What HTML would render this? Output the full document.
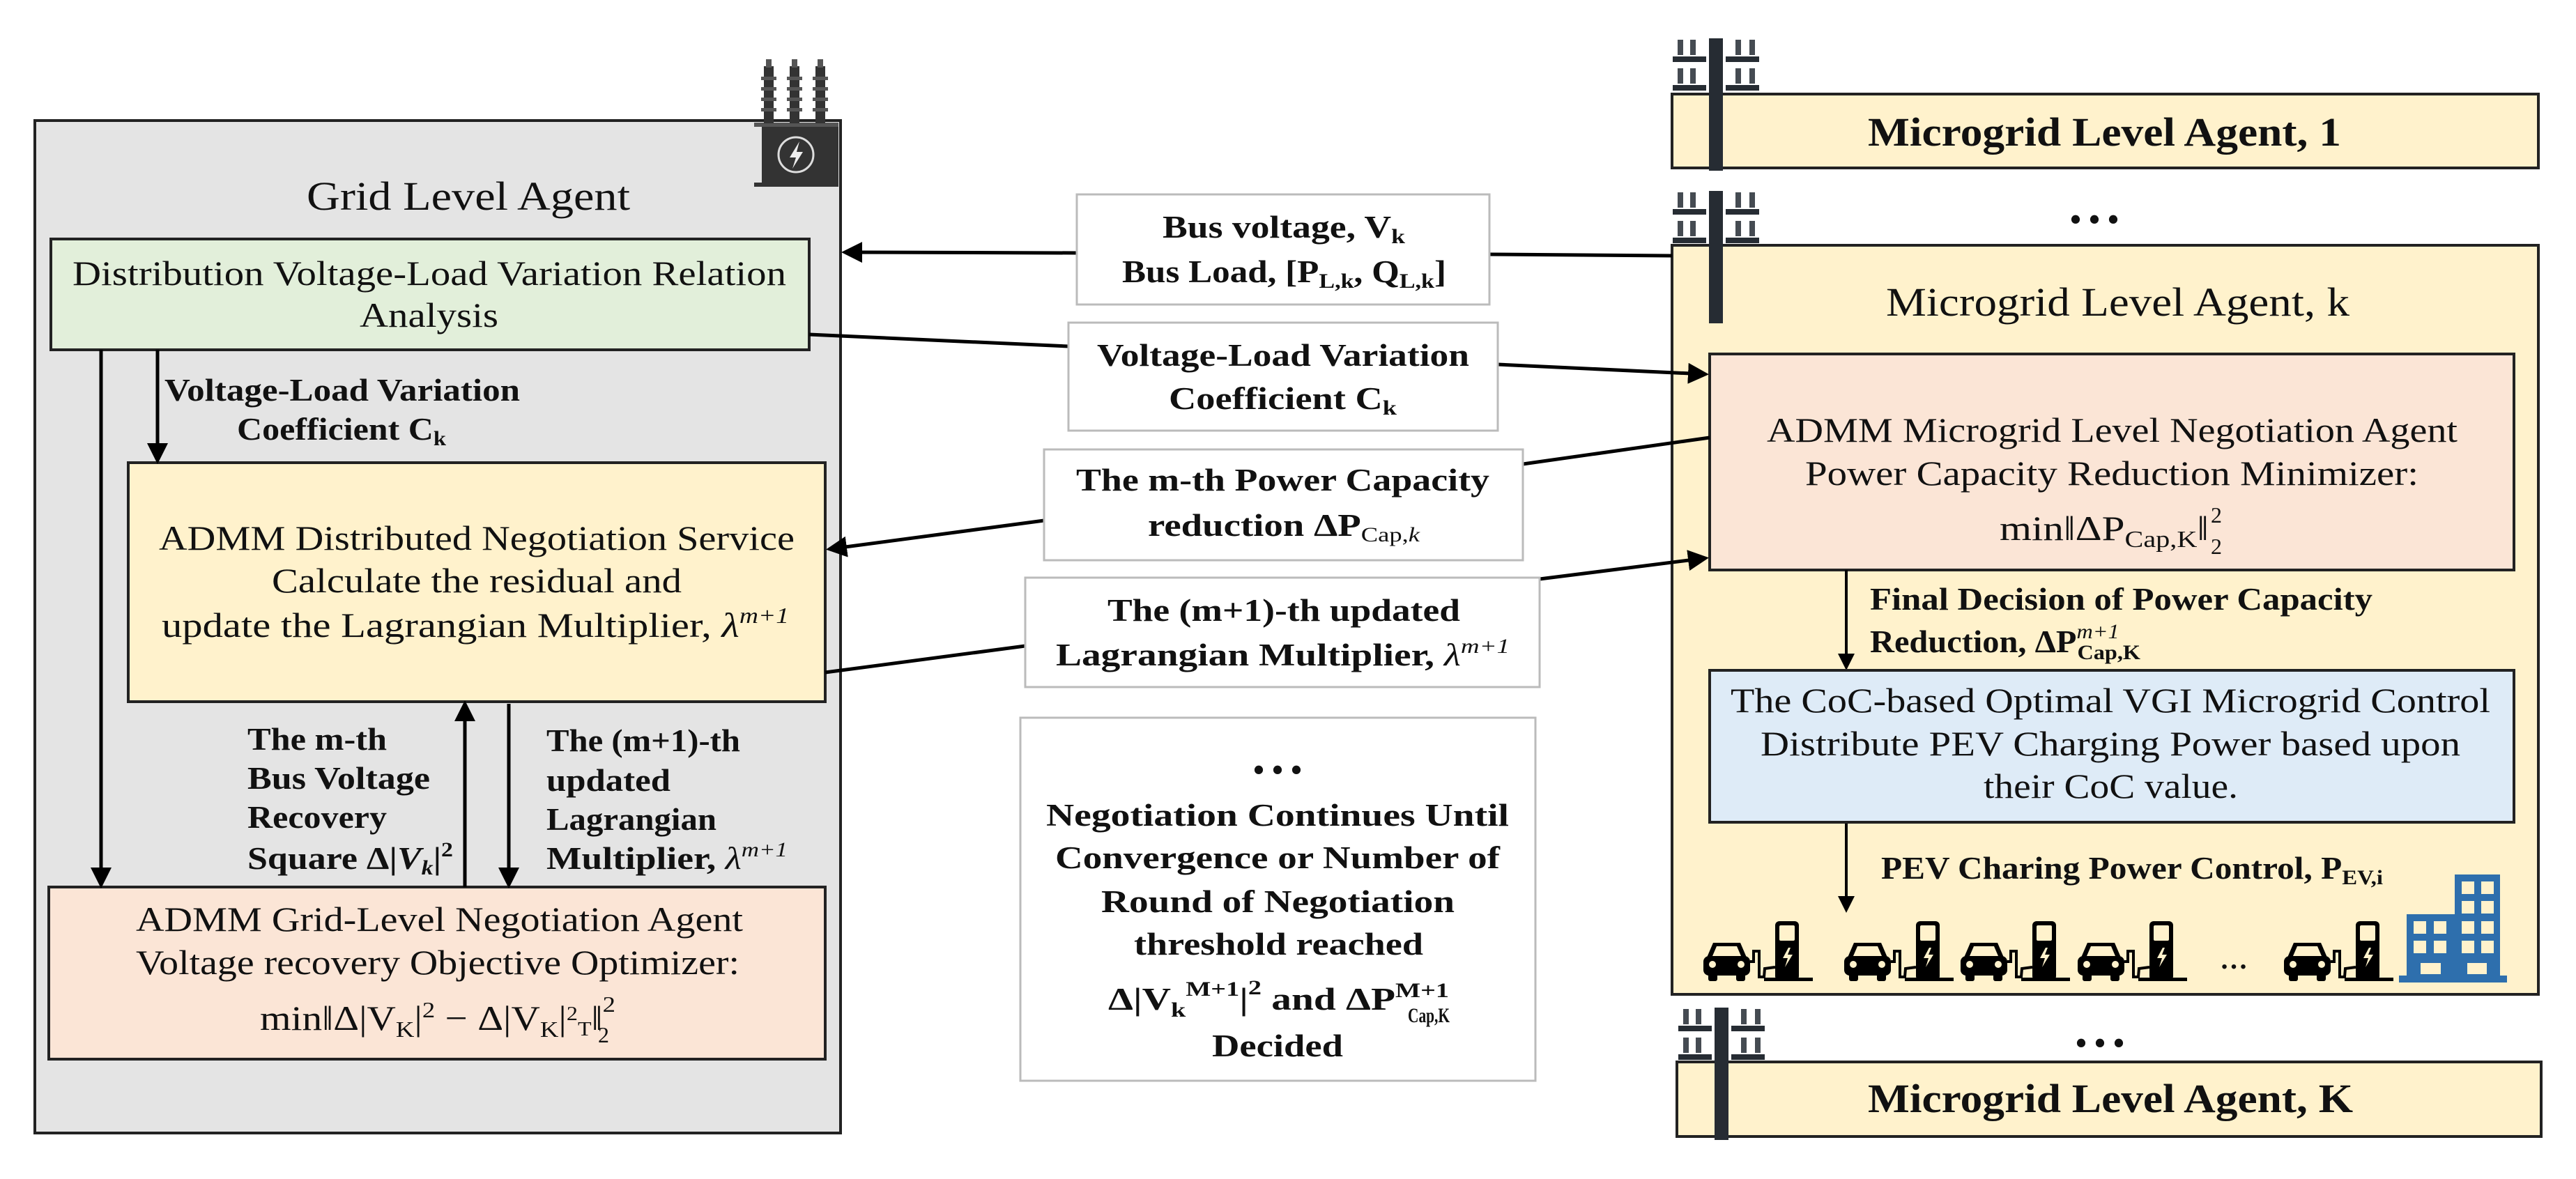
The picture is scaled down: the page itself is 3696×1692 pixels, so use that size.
<!DOCTYPE html>
<html><head><meta charset="utf-8"><style>
html,body{margin:0;padding:0;background:#fff}
svg{display:block}
text{font-family:"Liberation Serif",serif;fill:#111}
.b{font-weight:bold}
</style></head><body>
<svg width="3696" height="1692" viewBox="0 0 3696 1692" xmlns="http://www.w3.org/2000/svg">
<defs>
<marker id="ah" markerWidth="6" markerHeight="6" refX="5" refY="3" orient="auto" markerUnits="strokeWidth">
<path d="M0,0 L6,3 L0,6 Z" fill="#000"/></marker>
<g id="pole">
<rect x="52" y="0" width="20" height="190" fill="#262c33"/>
<rect x="0" y="26" width="48" height="8" fill="#262c33"/><rect x="76" y="26" width="48" height="8" fill="#262c33"/>
<rect x="0" y="67" width="48" height="8" fill="#262c33"/><rect x="76" y="67" width="48" height="8" fill="#262c33"/>
<g fill="#454b52">
<rect x="7" y="2" width="8" height="22"/><rect x="25" y="2" width="8" height="22"/><rect x="90" y="2" width="8" height="22"/><rect x="110" y="2" width="8" height="22"/>
<rect x="7" y="43" width="8" height="22"/><rect x="25" y="43" width="8" height="22"/><rect x="90" y="43" width="8" height="22"/><rect x="110" y="43" width="8" height="22"/>
</g></g>
<g id="car">
<path d="M14,33 L53,33 L62,54 L5,54 Z" fill="#000"/>
<path d="M19,38 L48,38 L54,52 L13,52 Z" fill="#fff2cc"/>
<rect x="0" y="52" width="67" height="28" rx="8" fill="#000"/>
<rect x="7" y="76" width="13" height="12" rx="3" fill="#000"/><rect x="47" y="76" width="13" height="12" rx="3" fill="#000"/>
<circle cx="13" cy="64" r="5" fill="#fff2cc"/><circle cx="54" cy="64" r="5" fill="#fff2cc"/>
<path d="M67,60 L72,60 L72,45 L80,45 L80,82 L87,82 L88,70 L103,68" fill="none" stroke="#000" stroke-width="4"/>
<rect x="103" y="2" width="34" height="85" rx="6" fill="#000"/>
<rect x="109" y="8" width="22" height="22" rx="2" fill="#fff2cc"/>
<path d="M122,40 L114,55 L121,55 L117,68 L128,50 L121,50 L125,40 Z" fill="#fff2cc"/>
<rect x="87" y="83" width="70" height="5" fill="#000"/>
</g>
</defs>

<!-- Grid level agent -->
<rect x="50" y="173" width="1156" height="1453" fill="#e4e4e4" stroke="#222" stroke-width="4"/>
<g>
<rect x="1093" y="180" width="110" height="85" fill="#333"/>
<rect x="1082" y="262" width="121" height="6" fill="#333"/>
<rect x="1082" y="176" width="121" height="6" fill="#555"/>
<g fill="#333">
<rect x="1096" y="95" width="14" height="82"/><rect x="1133" y="95" width="14" height="82"/><rect x="1170" y="95" width="14" height="82"/>
</g>
<g fill="#555">
<rect x="1092" y="110" width="22" height="5"/><rect x="1092" y="125" width="22" height="5"/><rect x="1092" y="140" width="22" height="5"/><rect x="1092" y="155" width="22" height="5"/>
<rect x="1129" y="110" width="22" height="5"/><rect x="1129" y="125" width="22" height="5"/><rect x="1129" y="140" width="22" height="5"/><rect x="1129" y="155" width="22" height="5"/>
<rect x="1166" y="110" width="22" height="5"/><rect x="1166" y="125" width="22" height="5"/><rect x="1166" y="140" width="22" height="5"/><rect x="1166" y="155" width="22" height="5"/>
<rect x="1099" y="85" width="8" height="12"/><rect x="1136" y="85" width="8" height="12"/><rect x="1173" y="85" width="8" height="12"/>
</g>
<circle cx="1142" cy="222" r="25" fill="none" stroke="#ddd" stroke-width="3"/>
<path d="M1147,203 L1133,226 L1142,226 L1137,242 L1152,218 L1143,218 Z" fill="#eee"/>
</g>
<text x="440" y="301" font-size="58" textLength="464" lengthAdjust="spacingAndGlyphs">Grid Level Agent</text>

<rect x="73" y="343" width="1088" height="159" fill="#e2efda" stroke="#222" stroke-width="4"/>
<text x="104" y="409" font-size="50" textLength="1024" lengthAdjust="spacingAndGlyphs">Distribution Voltage-Load Variation Relation</text>
<text x="516" y="469" font-size="50" textLength="199" lengthAdjust="spacingAndGlyphs">Analysis</text>

<rect x="184" y="664" width="1000" height="343" fill="#fff2cc" stroke="#222" stroke-width="4"/>
<text x="228" y="789" font-size="50" textLength="912" lengthAdjust="spacingAndGlyphs">ADMM Distributed Negotiation Service</text>
<text x="390" y="850" font-size="50" textLength="588" lengthAdjust="spacingAndGlyphs">Calculate the residual and</text>
<text x="232" y="914" font-size="50" textLength="900" lengthAdjust="spacingAndGlyphs">update the Lagrangian Multiplier, <tspan font-style="italic">λ</tspan><tspan font-style="italic" font-size="32" dy="-20">m+1</tspan></text>

<rect x="70" y="1273" width="1114" height="247" fill="#fbe5d6" stroke="#222" stroke-width="4"/>
<text x="195" y="1336" font-size="50" textLength="871" lengthAdjust="spacingAndGlyphs">ADMM Grid-Level Negotiation Agent</text>
<text x="195" y="1398" font-size="50" textLength="866" lengthAdjust="spacingAndGlyphs">Voltage recovery Objective Optimizer:</text>
<text x="373" y="1478" font-size="50" textLength="510" lengthAdjust="spacingAndGlyphs">min‖Δ|V<tspan font-size="32" dy="10">K</tspan><tspan dy="-10">|</tspan><tspan font-size="32" dy="-18">2</tspan><tspan dy="18"> − Δ|V</tspan><tspan font-size="32" dy="10">K</tspan><tspan dy="-10">|</tspan><tspan font-size="28" dy="-14">2</tspan><tspan font-size="28" dy="22">T</tspan><tspan dy="-8">‖</tspan><tspan font-size="32" dy="-26">2</tspan></text>
<text x="858" y="1496" font-size="32">2</text>

<g stroke="#000" stroke-width="5" fill="none">
<line x1="145" y1="502" x2="145" y2="1270" marker-end="url(#ah)"/>
<line x1="226" y1="502" x2="226" y2="661" marker-end="url(#ah)"/>
<line x1="667" y1="1273" x2="667" y2="1010" marker-end="url(#ah)"/>
<line x1="730" y1="1010" x2="730" y2="1270" marker-end="url(#ah)"/>
</g>
<g class="b" font-size="46">
<text class="b" x="236" y="575" textLength="510" lengthAdjust="spacingAndGlyphs">Voltage-Load Variation</text>
<text class="b" x="340" y="631" textLength="300" lengthAdjust="spacingAndGlyphs">Coefficient C<tspan font-size="30" dy="8">k</tspan></text>
<text class="b" x="355" y="1076" textLength="200" lengthAdjust="spacingAndGlyphs">The m-th</text>
<text class="b" x="355" y="1132" textLength="262" lengthAdjust="spacingAndGlyphs">Bus Voltage</text>
<text class="b" x="355" y="1188" textLength="200" lengthAdjust="spacingAndGlyphs">Recovery</text>
<text class="b" x="355" y="1247" textLength="295" lengthAdjust="spacingAndGlyphs">Square Δ|<tspan font-style="italic">V</tspan><tspan font-style="italic" font-size="30" dy="8">k</tspan><tspan dy="-8">|</tspan><tspan font-size="30" dy="-18">2</tspan></text>
<text class="b" x="784" y="1078" textLength="278" lengthAdjust="spacingAndGlyphs">The (m+1)-th</text>
<text class="b" x="784" y="1135" textLength="178" lengthAdjust="spacingAndGlyphs">updated</text>
<text class="b" x="784" y="1191" textLength="244" lengthAdjust="spacingAndGlyphs">Lagrangian</text>
<text class="b" x="784" y="1247" textLength="346" lengthAdjust="spacingAndGlyphs">Multiplier, <tspan font-style="italic" font-weight="normal">λ</tspan><tspan font-style="italic" font-weight="normal" font-size="30" dy="-18">m+1</tspan></text>
</g>

<!-- Microgrid side -->
<rect x="2399" y="135" width="1243" height="106" fill="#fff2cc" stroke="#222" stroke-width="4"/>
<use href="#pole" x="2400" y="55"/>
<rect x="2452" y="230" width="20" height="11" fill="#262c33"/>
<text class="b" x="2680" y="209" font-size="58" textLength="679" lengthAdjust="spacingAndGlyphs">Microgrid Level Agent, 1</text>
<text class="b" x="3005" y="330" text-anchor="middle" font-size="45">• • •</text>

<rect x="2399" y="352" width="1243" height="1075" fill="#fff2cc" stroke="#222" stroke-width="4"/>
<use href="#pole" x="2400" y="274"/>
<text x="2706" y="453" font-size="58" textLength="665" lengthAdjust="spacingAndGlyphs">Microgrid  Level Agent, k</text>

<rect x="2453" y="508" width="1154" height="310" fill="#fbe5d6" stroke="#222" stroke-width="4"/>
<text x="2535" y="634" font-size="50" textLength="991" lengthAdjust="spacingAndGlyphs">ADMM Microgrid Level Negotiation Agent</text>
<text x="2590" y="696" font-size="50" textLength="880" lengthAdjust="spacingAndGlyphs">Power Capacity Reduction Minimizer:</text>
<text x="2869" y="775" font-size="50" textLength="300" lengthAdjust="spacingAndGlyphs">min‖ΔP<tspan font-size="34" dy="10">Cap,K</tspan><tspan dy="-10">‖</tspan></text>
<text x="3172" y="750" font-size="32">2</text><text x="3172" y="795" font-size="32">2</text>

<g stroke="#000" stroke-width="4" fill="none">
<line x1="2649" y1="818" x2="2649" y2="958" marker-end="url(#ah)"/>
<line x1="2649" y1="1180" x2="2649" y2="1306" marker-end="url(#ah)"/>
</g>
<text class="b" x="2683" y="875" font-size="45" textLength="721" lengthAdjust="spacingAndGlyphs">Final Decision of Power Capacity</text>
<text class="b" x="2683" y="936" font-size="45" textLength="388" lengthAdjust="spacingAndGlyphs">Reduction, ΔP<tspan font-size="30" dy="-20" font-style="italic" font-weight="normal">m+1</tspan><tspan font-size="30" dx="-56" dy="30">Cap,K</tspan></text>

<rect x="2453" y="962" width="1154" height="218" fill="#deebf7" stroke="#222" stroke-width="4"/>
<text x="2483" y="1022" font-size="50" textLength="1090" lengthAdjust="spacingAndGlyphs">The CoC-based Optimal VGI Microgrid Control</text>
<text x="2526" y="1084" font-size="50" textLength="1004" lengthAdjust="spacingAndGlyphs">Distribute PEV Charging Power based upon</text>
<text x="2846" y="1145" font-size="50" textLength="365" lengthAdjust="spacingAndGlyphs">their CoC value.</text>
<text class="b" x="2699" y="1261" font-size="45" textLength="720" lengthAdjust="spacingAndGlyphs">PEV Charing Power Control, P<tspan font-size="30" dy="8">EV,i</tspan></text>

<use href="#car" x="2444" y="1320"/>
<use href="#car" x="2646" y="1320"/>
<use href="#car" x="2813" y="1320"/>
<use href="#car" x="2981" y="1320"/>
<use href="#car" x="3277" y="1320"/>
<text class="b" x="3205" y="1390" text-anchor="middle" font-size="40">…</text>
<g fill="#2e6fad">
<rect x="3522" y="1255" width="65" height="150"/>
<rect x="3453" y="1312" width="70" height="93"/>
<rect x="3442" y="1400" width="155" height="10"/>
</g>
<g fill="#fff2cc">
<rect x="3532" y="1265" width="18" height="18"/><rect x="3560" y="1265" width="18" height="18"/>
<rect x="3532" y="1293" width="18" height="18"/><rect x="3560" y="1293" width="18" height="18"/>
<rect x="3532" y="1322" width="18" height="18"/><rect x="3560" y="1322" width="18" height="18"/>
<rect x="3532" y="1350" width="18" height="18"/><rect x="3560" y="1350" width="18" height="18"/>
<rect x="3463" y="1322" width="18" height="18"/><rect x="3492" y="1322" width="18" height="18"/>
<rect x="3463" y="1350" width="18" height="18"/><rect x="3492" y="1350" width="18" height="18"/>
<rect x="3473" y="1382" width="29" height="16"/><rect x="3540" y="1382" width="28" height="16"/>
</g>

<text class="b" x="3013" y="1512" text-anchor="middle" font-size="45">• • •</text>
<rect x="2406" y="1524" width="1240" height="107" fill="#fff2cc" stroke="#222" stroke-width="4"/>
<use href="#pole" x="2408" y="1446"/>
<text class="b" x="2680" y="1596" font-size="58" textLength="696" lengthAdjust="spacingAndGlyphs">Microgrid Level Agent, K</text>

<!-- connectors middle (drawn on top) -->
<g stroke="#000" stroke-width="5" fill="none">
<line x1="1545" y1="363" x2="1212" y2="362" marker-end="url(#ah)"/>
<line x1="2399" y1="367" x2="2137" y2="365"/>
<line x1="1161" y1="480" x2="1533" y2="497"/>
<line x1="2149" y1="523" x2="2447" y2="537" marker-end="url(#ah)"/>
<line x1="2453" y1="628" x2="2185" y2="666"/>
<line x1="1498" y1="747" x2="1190" y2="788" marker-end="url(#ah)"/>
<line x1="1184" y1="965" x2="1471" y2="927"/>
<line x1="2209" y1="831" x2="2447" y2="801" marker-end="url(#ah)"/>
</g>

<g fill="#fff" stroke="#bbb" stroke-width="3">
<rect x="1545" y="279" width="592" height="158"/>
<rect x="1533" y="463" width="616" height="155"/>
<rect x="1498" y="645" width="687" height="159"/>
<rect x="1471" y="829" width="738" height="157"/>
<rect x="1464" y="1030" width="739" height="521"/>
</g>
<g font-size="45">
<text class="b" x="1668" y="341" textLength="348" lengthAdjust="spacingAndGlyphs">Bus voltage, V<tspan font-size="30" dy="8">k</tspan></text>
<text class="b" x="1610" y="405" textLength="465" lengthAdjust="spacingAndGlyphs">Bus Load, [P<tspan font-size="30" dy="8">L,k</tspan><tspan dy="-8">, Q</tspan><tspan font-size="30" dy="8">L,k</tspan><tspan dy="-8">]</tspan></text>
<text class="b" x="1574" y="525" textLength="534" lengthAdjust="spacingAndGlyphs">Voltage-Load Variation</text>
<text class="b" x="1677" y="587" textLength="327" lengthAdjust="spacingAndGlyphs">Coefficient C<tspan font-size="30" dy="8">k</tspan></text>
<text class="b" x="1544" y="704" textLength="593" lengthAdjust="spacingAndGlyphs">The m-th Power Capacity</text>
<text class="b" x="1647" y="769" textLength="390" lengthAdjust="spacingAndGlyphs">reduction ΔP<tspan font-size="30" dy="8" font-weight="normal">Cap,<tspan font-style="italic">k</tspan></tspan></text>
<text class="b" x="1589" y="891" textLength="506" lengthAdjust="spacingAndGlyphs">The (m+1)-th updated</text>
<text class="b" x="1515" y="955" textLength="651" lengthAdjust="spacingAndGlyphs">Lagrangian Multiplier, <tspan font-style="italic" font-weight="normal">λ</tspan><tspan font-style="italic" font-weight="normal" font-size="30" dy="-18">m+1</tspan></text>

<text class="b" x="1833" y="1120" text-anchor="middle" font-size="45">• • •</text>
<text class="b" x="1501" y="1185" textLength="664" lengthAdjust="spacingAndGlyphs">Negotiation Continues Until</text>
<text class="b" x="1514" y="1246" textLength="638" lengthAdjust="spacingAndGlyphs">Convergence or Number of</text>
<text class="b" x="1580" y="1309" textLength="507" lengthAdjust="spacingAndGlyphs">Round of Negotiation</text>
<text class="b" x="1627" y="1370" textLength="415" lengthAdjust="spacingAndGlyphs">threshold reached</text>
<text class="b" x="1590" y="1449" textLength="489" lengthAdjust="spacingAndGlyphs">Δ|V<tspan font-size="30" dy="10">k</tspan><tspan font-size="30" dy="-30">M+1</tspan><tspan dy="20">|</tspan><tspan font-size="30" dy="-22">2</tspan><tspan dy="22"> and ΔP</tspan><tspan font-size="30" dy="-18">M+1</tspan></text>
<text class="b" x="2020" y="1467" font-size="30" textLength="60" lengthAdjust="spacingAndGlyphs">Cap,K</text>
<text class="b" x="1739" y="1516" textLength="188" lengthAdjust="spacingAndGlyphs">Decided</text>
</g>
</svg>
</body></html>
